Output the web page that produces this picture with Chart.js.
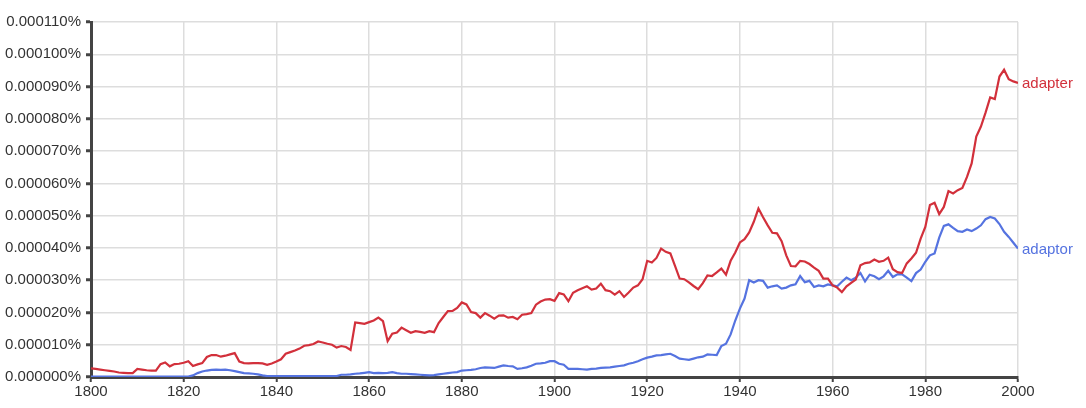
<!DOCTYPE html>
<html lang="en">
<head>
    <meta charset="UTF-8">
    <title>adapter vs adaptor</title>
    <script src="https://cdn.jsdelivr.net/npm/chart.js"></script>
    <style>
        html, body { margin: 0; padding: 0; background: #ffffff; }
        .wrap { position: relative; width: 1086px; height: 408px; }
    </style>
</head>
<body>
    <div class="wrap">
        <canvas id="ngram"></canvas>
    </div>
    <script>
        // years 1800..2000, one value per year
        const firstYear = 1800;
        const years = Array.from({ length: 201 }, (_, i) => firstYear + i);

        // values in millionths of a percent (10 => 0.000010%)
        const adapter = [
            2.7, 2.5, 2.3, 2.1, 1.9, 1.7, 1.4, 1.3, 1.2, 1.2,
            2.5, 2.3, 2.1, 2.0, 2.0, 4.0, 4.5, 3.3, 4.0, 4.1,
            4.4, 4.9, 3.4, 3.9, 4.3, 6.2, 6.8, 6.8, 6.3, 6.6,
            7.0, 7.4, 4.8, 4.3, 4.2, 4.3, 4.3, 4.2, 3.8, 4.2,
            4.8, 5.5, 7.2, 7.7, 8.2, 8.8, 9.7, 9.9, 10.2, 11.0,
            10.7, 10.3, 10.0, 9.1, 9.6, 9.3, 8.4, 16.9, 16.7, 16.5,
            17.0, 17.5, 18.4, 17.3, 11.1, 13.4, 13.8, 15.3, 14.5, 13.7,
            14.2, 14.0, 13.7, 14.2, 13.9, 16.7, 18.6, 20.4, 20.5, 21.4,
            23.1, 22.5, 20.1, 19.8, 18.4, 19.8, 19.0, 18.1, 19.0, 19.1,
            18.4, 18.6, 17.9, 19.3, 19.5, 19.8, 22.4, 23.4, 24.0, 24.1,
            23.6, 26.0, 25.6, 23.5, 26.1, 26.9, 27.5, 28.1, 27.1, 27.4,
            28.9, 26.9, 26.6, 25.5, 26.6, 24.8, 26.2, 27.7, 28.4, 30.3,
            36.0, 35.5, 36.9, 39.8, 38.8, 38.3, 34.4, 30.5, 30.3, 29.3,
            28.2, 27.2, 29.1, 31.5, 31.3, 32.4, 33.6, 31.7, 36.0, 38.6,
            41.7, 42.7, 44.8, 48.1, 52.2, 49.5, 47.0, 44.7, 44.5, 42.1,
            37.7, 34.4, 34.3, 36.0, 35.8, 35.0, 33.9, 32.9, 30.5, 30.5,
            28.4, 27.7, 26.3, 28.1, 29.2, 30.2, 34.6, 35.3, 35.5, 36.4,
            35.7, 36.0, 37.0, 33.4, 32.5, 32.2, 35.2, 36.7, 38.5, 42.9,
            46.5, 53.3, 54.0, 50.5, 52.7, 57.6, 56.9, 57.9, 58.6, 62.0,
            66.2, 74.5, 77.6, 81.9, 86.6, 86.1, 93.1, 95.2, 92.3, 91.6,
            91.1
        ];

        const adaptor = [
            0.1, 0.1, 0.1, 0.1, 0.1, 0.1, 0.1, 0.1, 0.1, 0.1,
            0.1, 0.1, 0.1, 0.1, 0.1, 0.1, 0.1, 0.1, 0.1, 0.1,
            0.1, 0.1, 0.5, 1.2, 1.7, 2.0, 2.2, 2.3, 2.2, 2.3,
            2.1, 1.8, 1.5, 1.2, 1.1, 1.0, 0.8, 0.5, 0.3, 0.3,
            0.3, 0.3, 0.3, 0.3, 0.3, 0.3, 0.3, 0.3, 0.3, 0.3,
            0.3, 0.3, 0.3, 0.3, 0.7, 0.7, 0.8, 1.0, 1.1, 1.3,
            1.5, 1.2, 1.3, 1.2, 1.3, 1.5, 1.2, 1.0, 1.0, 0.9,
            0.8, 0.7, 0.6, 0.5, 0.6, 0.8, 1.0, 1.2, 1.4, 1.5,
            2.0, 2.1, 2.2, 2.4, 2.8, 3.0, 2.9, 2.8, 3.2, 3.6,
            3.4, 3.3, 2.5, 2.7, 3.0, 3.5, 4.1, 4.2, 4.4, 4.9,
            4.9, 4.1, 3.8, 2.5, 2.5, 2.5, 2.4, 2.3, 2.5, 2.6,
            2.8, 2.9, 3.0, 3.2, 3.4, 3.6, 4.1, 4.4, 4.9, 5.5,
            6.0, 6.3, 6.7, 6.8, 7.0, 7.2, 6.5, 5.7, 5.5, 5.3,
            5.7, 6.1, 6.3, 7.0, 6.9, 6.8, 9.6, 10.3, 13.2, 17.5,
            21.2, 24.3, 30.0, 29.3, 30.0, 29.8, 27.7, 28.1, 28.4, 27.4,
            27.7, 28.4, 28.7, 31.3, 29.4, 29.8, 27.9, 28.4, 28.1, 28.7,
            28.4, 28.1, 29.5, 30.8, 30.0, 30.8, 32.2, 29.6, 31.7, 31.2,
            30.3, 31.2, 32.9, 31.0, 31.8, 31.8, 30.8, 29.7, 32.2, 33.3,
            35.7, 37.7, 38.3, 43.2, 46.8, 47.3, 46.2, 45.2, 45.0, 45.7,
            45.2, 46.0, 47.0, 48.9, 49.6, 49.1, 47.4, 45.0, 43.4, 41.6,
            39.8
        ];

        const seriesNames = ['adapter', 'adaptor'];
        const seriesColors = ['#d2303b', '#5573e0'];

        const textColor = '#333333';
        const axisColor = '#444444';
        const fontFamily = '"Liberation Sans", Arial, Helvetica, sans-serif';

        // writes each series name just right of its last point
        const endLabels = {
            id: 'endLabels',
            afterDatasetsDraw(chart) {
                const ctx = chart.ctx;
                ctx.save();
                ctx.font = '15px ' + fontFamily;
                ctx.textBaseline = 'middle';
                ctx.textAlign = 'left';
                chart.data.datasets.forEach((ds, i) => {
                    const pts = chart.getDatasetMeta(i).data;
                    const last = pts[pts.length - 1];
                    ctx.fillStyle = ds.borderColor;
                    ctx.fillText(ds.label, last.x + 4, last.y + 1);
                });
                ctx.restore();
            }
        };

        const toPoints = arr => arr.map((v, i) => ({ x: years[i], y: v }));

        new Chart(document.getElementById('ngram'), {
            type: 'line',
            data: {
                datasets: [{
                    label: seriesNames[0],
                    data: toPoints(adapter),
                    borderColor: seriesColors[0],
                    borderWidth: 2.2,
                    pointRadius: 0,
                    tension: 0
                }, {
                    label: seriesNames[1],
                    data: toPoints(adaptor),
                    borderColor: seriesColors[1],
                    borderWidth: 2.2,
                    pointRadius: 0,
                    tension: 0
                }]
            },
            options: {
                responsive: true,
                maintainAspectRatio: false,
                animation: false,
                layout: { padding: { left: 0, right: 68, top: 22, bottom: 0 } },
                plugins: {
                    legend: { display: false },
                    tooltip: { enabled: false }
                },
                scales: {
                    x: {
                        type: 'linear',
                        min: 1800,
                        max: 2000,
                        afterFit: s => { s.height = 31; },
                        border: { color: axisColor, width: 3 },
                        grid: { color: '#dddddd', lineWidth: 1.5, tickLength: 5, tickColor: axisColor, tickWidth: 2 },
                        ticks: {
                            stepSize: 20,
                            padding: 1,
                            color: textColor,
                            maxRotation: 0,
                            font: { family: fontFamily, size: 15 },
                            callback: v => String(v)
                        }
                    },
                    y: {
                        min: 0,
                        max: 110,
                        afterFit: s => { s.width = 91; },
                        border: { color: axisColor, width: 3 },
                        grid: { color: '#dddddd', lineWidth: 1.5, tickLength: 5, tickColor: axisColor, tickWidth: 3 },
                        ticks: {
                            stepSize: 10,
                            padding: 5,
                            color: textColor,
                            font: { family: fontFamily, size: 15 },
                            callback: v => (v / 1e6).toFixed(6) + '%'
                        }
                    }
                }
            },
            plugins: [endLabels]
        });
    </script>
</body>
</html>
